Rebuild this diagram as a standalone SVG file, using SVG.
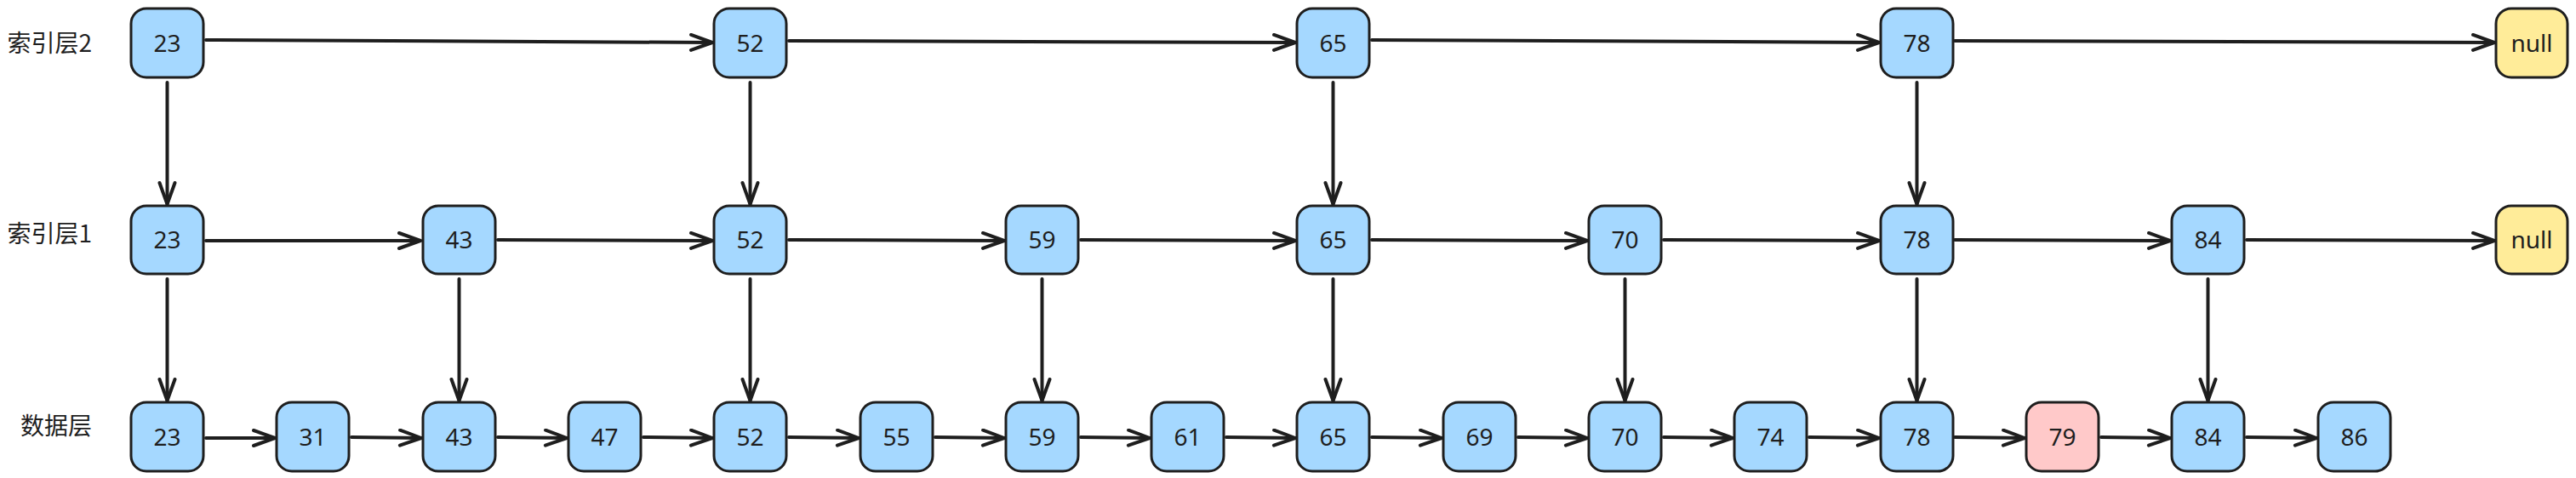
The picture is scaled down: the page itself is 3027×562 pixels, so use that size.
<svg xmlns="http://www.w3.org/2000/svg" width="3027" height="562" viewBox="0 0 3027 562">
<style>
.bx{stroke:#1e1e1e;stroke-width:3}
.blue{fill:#a5d8ff}
.yel{fill:#ffec99}
.pink{fill:#ffc9c9}
.t{font-family:"Noto Sans","Open Sans",sans-serif;font-size:28px;fill:#1e1e1e;text-anchor:middle}
.lb{font-family:"Noto Sans CJK SC","Noto Sans",sans-serif;font-size:28px;fill:#1e1e1e;text-anchor:end}
.c line{stroke:#1e1e1e;stroke-width:4;stroke-linecap:round;fill:none;marker-end:url(#ah)}
</style>
<defs>
<marker id="ah" markerUnits="userSpaceOnUse" markerWidth="32" markerHeight="24" refX="28" refY="11" orient="auto">
<path d="M3,2 L28,11 L3,20" fill="none" stroke="#1e1e1e" stroke-width="4" stroke-linecap="round" stroke-linejoin="round"/>
</marker>
</defs>
<rect width="3027" height="562" fill="#ffffff"/>
<g id="labels">
<text class="lb" x="108" y="61">索引层2</text>
<text class="lb" x="108" y="285">索引层1</text>
<text class="lb" x="108" y="511">数据层</text>
</g>
<g id="connectors" class="c">
<line x1="242" y1="47" x2="837" y2="50"/>
<line x1="927" y1="48" x2="1522" y2="50"/>
<line x1="1612" y1="47" x2="2208" y2="50"/>
<line x1="2297" y1="48" x2="2931" y2="50"/>
<line x1="242" y1="283" x2="494" y2="283"/>
<line x1="585" y1="282" x2="837" y2="283"/>
<line x1="927" y1="282" x2="1180" y2="283"/>
<line x1="1270" y1="282" x2="1522" y2="283"/>
<line x1="1612" y1="282" x2="1865" y2="283"/>
<line x1="1955" y1="282" x2="2208" y2="283"/>
<line x1="2297" y1="282" x2="2550" y2="283"/>
<line x1="2640" y1="282" x2="2931" y2="283"/>
<line x1="242" y1="515" x2="323" y2="515"/>
<line x1="413" y1="514" x2="495" y2="515"/>
<line x1="585" y1="514" x2="666" y2="515"/>
<line x1="756" y1="514" x2="837" y2="515"/>
<line x1="927" y1="514" x2="1009" y2="515"/>
<line x1="1099" y1="514" x2="1180" y2="515"/>
<line x1="1270" y1="514" x2="1351" y2="515"/>
<line x1="1441" y1="514" x2="1522" y2="515"/>
<line x1="1612" y1="514" x2="1694" y2="515"/>
<line x1="1784" y1="514" x2="1865" y2="515"/>
<line x1="1955" y1="514" x2="2036" y2="515"/>
<line x1="2126" y1="514" x2="2208" y2="515"/>
<line x1="2297" y1="514" x2="2379" y2="515"/>
<line x1="2469" y1="514" x2="2550" y2="515"/>
<line x1="2640" y1="514" x2="2722" y2="515"/>
<line x1="196.5" y1="97" x2="196.5" y2="240"/>
<line x1="881.5" y1="97" x2="881.5" y2="240"/>
<line x1="1566.5" y1="97" x2="1566.5" y2="240"/>
<line x1="2252.5" y1="97" x2="2252.5" y2="240"/>
<line x1="196.5" y1="328" x2="196.5" y2="471"/>
<line x1="539.5" y1="328" x2="539.5" y2="471"/>
<line x1="881.5" y1="328" x2="881.5" y2="471"/>
<line x1="1224.5" y1="328" x2="1224.5" y2="471"/>
<line x1="1566.5" y1="328" x2="1566.5" y2="471"/>
<line x1="1909.5" y1="328" x2="1909.5" y2="471"/>
<line x1="2252.5" y1="328" x2="2252.5" y2="471"/>
<line x1="2594.5" y1="328" x2="2594.5" y2="471"/>
</g>
<g id="n2_23"><rect class="bx blue" x="154" y="10" width="85" height="81" rx="18"/><text class="t" x="196.5" y="60.5">23</text></g>
<g id="n2_52"><rect class="bx blue" x="839" y="10" width="85" height="81" rx="18"/><text class="t" x="881.5" y="60.5">52</text></g>
<g id="n2_65"><rect class="bx blue" x="1524" y="10" width="85" height="81" rx="18"/><text class="t" x="1566.5" y="60.5">65</text></g>
<g id="n2_78"><rect class="bx blue" x="2210" y="10" width="85" height="81" rx="18"/><text class="t" x="2252.5" y="60.5">78</text></g>
<g id="n2_null"><rect class="bx yel" x="2933" y="10" width="84" height="81" rx="18"/><text class="t" x="2975" y="60.5">null</text></g>
<g id="n1_23"><rect class="bx blue" x="154" y="242" width="85" height="80" rx="18"/><text class="t" x="196.5" y="292">23</text></g>
<g id="n1_43"><rect class="bx blue" x="497" y="242" width="85" height="80" rx="18"/><text class="t" x="539.5" y="292">43</text></g>
<g id="n1_52"><rect class="bx blue" x="839" y="242" width="85" height="80" rx="18"/><text class="t" x="881.5" y="292">52</text></g>
<g id="n1_59"><rect class="bx blue" x="1182" y="242" width="85" height="80" rx="18"/><text class="t" x="1224.5" y="292">59</text></g>
<g id="n1_65"><rect class="bx blue" x="1524" y="242" width="85" height="80" rx="18"/><text class="t" x="1566.5" y="292">65</text></g>
<g id="n1_70"><rect class="bx blue" x="1867" y="242" width="85" height="80" rx="18"/><text class="t" x="1909.5" y="292">70</text></g>
<g id="n1_78"><rect class="bx blue" x="2210" y="242" width="85" height="80" rx="18"/><text class="t" x="2252.5" y="292">78</text></g>
<g id="n1_84"><rect class="bx blue" x="2552" y="242" width="85" height="80" rx="18"/><text class="t" x="2594.5" y="292">84</text></g>
<g id="n1_null"><rect class="bx yel" x="2933" y="242" width="84" height="80" rx="18"/><text class="t" x="2975" y="292">null</text></g>
<g id="d_23"><rect class="bx blue" x="154" y="473" width="85" height="81" rx="18"/><text class="t" x="196.5" y="523.5">23</text></g>
<g id="d_31"><rect class="bx blue" x="325" y="473" width="85" height="81" rx="18"/><text class="t" x="367.5" y="523.5">31</text></g>
<g id="d_43"><rect class="bx blue" x="497" y="473" width="85" height="81" rx="18"/><text class="t" x="539.5" y="523.5">43</text></g>
<g id="d_47"><rect class="bx blue" x="668" y="473" width="85" height="81" rx="18"/><text class="t" x="710.5" y="523.5">47</text></g>
<g id="d_52"><rect class="bx blue" x="839" y="473" width="85" height="81" rx="18"/><text class="t" x="881.5" y="523.5">52</text></g>
<g id="d_55"><rect class="bx blue" x="1011" y="473" width="85" height="81" rx="18"/><text class="t" x="1053.5" y="523.5">55</text></g>
<g id="d_59"><rect class="bx blue" x="1182" y="473" width="85" height="81" rx="18"/><text class="t" x="1224.5" y="523.5">59</text></g>
<g id="d_61"><rect class="bx blue" x="1353" y="473" width="85" height="81" rx="18"/><text class="t" x="1395.5" y="523.5">61</text></g>
<g id="d_65"><rect class="bx blue" x="1524" y="473" width="85" height="81" rx="18"/><text class="t" x="1566.5" y="523.5">65</text></g>
<g id="d_69"><rect class="bx blue" x="1696" y="473" width="85" height="81" rx="18"/><text class="t" x="1738.5" y="523.5">69</text></g>
<g id="d_70"><rect class="bx blue" x="1867" y="473" width="85" height="81" rx="18"/><text class="t" x="1909.5" y="523.5">70</text></g>
<g id="d_74"><rect class="bx blue" x="2038" y="473" width="85" height="81" rx="18"/><text class="t" x="2080.5" y="523.5">74</text></g>
<g id="d_78"><rect class="bx blue" x="2210" y="473" width="85" height="81" rx="18"/><text class="t" x="2252.5" y="523.5">78</text></g>
<g id="d_79"><rect class="bx pink" x="2381" y="473" width="85" height="81" rx="18"/><text class="t" x="2423.5" y="523.5">79</text></g>
<g id="d_84"><rect class="bx blue" x="2552" y="473" width="85" height="81" rx="18"/><text class="t" x="2594.5" y="523.5">84</text></g>
<g id="d_86"><rect class="bx blue" x="2724" y="473" width="85" height="81" rx="18"/><text class="t" x="2766.5" y="523.5">86</text></g>
</svg>
